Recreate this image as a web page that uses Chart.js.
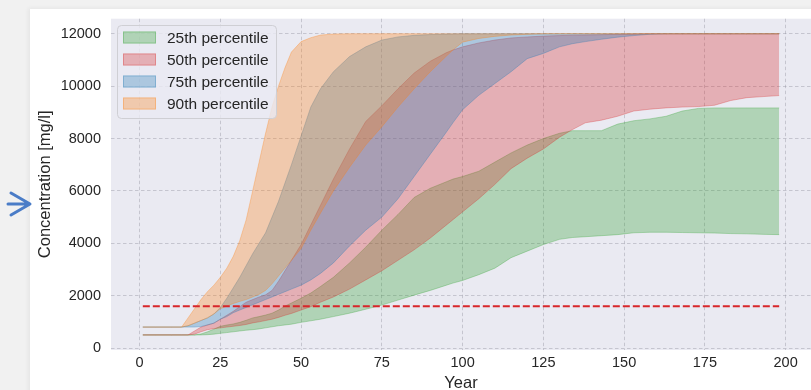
<!DOCTYPE html>
<html lang="en">
<head>
<meta charset="UTF-8">
<title>Concentration percentiles</title>
<script src="https://cdn.jsdelivr.net/npm/chart.js"></script>
<style>
  html, body { margin: 0; padding: 0; overflow: hidden; background: #f1f1f1; width: 811px; height: 390px; }
  #card { position: absolute; left: 30px; top: 9px; width: 800px; height: 400px; background: #ffffff; box-shadow: -2px -1px 4px rgba(0,0,0,0.05); }
  #arrow { position: absolute; left: 0; top: 190px; }
  #chart { position: absolute; left: 0; top: 0; }
</style>
</head>
<body>
<div id="card"></div>
<svg id="arrow" width="34" height="30">
  <path d="M8 14 H29 M11 3 L30 14 L11 25" stroke="#4a7cc7" stroke-width="3" fill="none" stroke-linecap="round" stroke-linejoin="round"/>
</svg>
<canvas id="chart" width="811" height="393"></canvas>
<script>
const years = [1, 5, 10, 13, 15, 17, 19, 21, 23, 25, 27, 29, 31, 33, 35, 37, 39, 41, 43, 45,
  47, 50, 53, 56, 60, 65, 70, 75, 80, 85, 90, 95, 97, 100, 105, 110, 115, 120, 125, 130,
  134, 138, 143, 148, 153, 158, 163, 168, 173, 178, 183, 188, 193, 198];

// lower / upper edge of every percentile band [mg/l]
const p25Low = [500, 500, 500, 500, 500, 500, 500, 510, 530, 560, 590, 620, 650, 680, 700, 730, 770, 810, 850, 880,
  910, 980, 1040, 1100, 1200, 1330, 1480, 1640, 1830, 2020, 2200, 2400, 2480, 2580, 2800, 3050, 3450, 3700, 3950, 4150,
  4220, 4250, 4290, 4330, 4400, 4420, 4420, 4410, 4400, 4390, 4370, 4360, 4340, 4330];
const p25High = [500, 500, 500, 500, 500, 500, 540, 620, 720, 830, 880, 920, 980, 1060, 1150, 1200, 1260, 1330, 1450, 1600,
  1720, 1900, 2100, 2350, 2700, 3250, 3850, 4500, 5100, 5750, 6100, 6350, 6450, 6550, 6750, 7100, 7450, 7750, 8000, 8200,
  8300, 8300, 8300, 8550, 8680, 8750, 8850, 9050, 9150, 9170, 9170, 9170, 9170, 9170];
const p50Low = [500, 500, 500, 500, 500, 530, 620, 700, 740, 770, 800, 830, 860, 900, 960, 1000, 1050, 1100, 1170, 1250,
  1320, 1450, 1580, 1750, 1950, 2250, 2600, 2950, 3350, 3750, 4200, 4700, 4900, 5200, 5700, 6250, 6850, 7250, 7600, 8050,
  8340, 8600, 8700, 8850, 9050, 9120, 9170, 9200, 9220, 9270, 9450, 9560, 9600, 9640];
const p50High = [500, 500, 500, 500, 500, 650, 800, 880, 950, 1100, 1250, 1400, 1580, 1750, 1850, 1950, 2030, 2200, 2550, 2950,
  3350, 3950, 4700, 5450, 6450, 7600, 8650, 9250, 9900, 10500, 10950, 11280, 11380, 11500, 11650, 11760, 11840, 11880, 11910, 11930,
  11945, 11955, 11965, 11980, 11990, 12000, 12000, 12000, 12000, 12000, 12000, 12000, 12000, 12000];
const p75Low = [800, 800, 800, 800, 800, 800, 820, 880, 950, 1100, 1200, 1350, 1450, 1550, 1650, 1750, 1850, 1950, 2050, 2150,
  2250, 2400, 2600, 2850, 3250, 3900, 4500, 5000, 5700, 6550, 7400, 8250, 8600, 9100, 9650, 10100, 10550, 11050, 11250, 11500,
  11620, 11700, 11790, 11870, 11930, 11980, 12000, 12000, 12000, 12000, 12000, 12000, 12000, 12000];
const p75High = [800, 800, 800, 800, 850, 950, 1050, 1150, 1300, 1550, 1900, 2300, 2700, 3150, 3600, 4000, 4400, 5000, 5600, 6300,
  7000, 8100, 9200, 9900, 10550, 11130, 11500, 11760, 11880, 11940, 11970, 11990, 11995, 12000, 12000, 12000, 12000, 12000, 12000, 12000,
  12000, 12000, 12000, 12000, 12000, 12000, 12000, 12000, 12000, 12000, 12000, 12000, 12000, 12000];
const p90Low = [800, 800, 800, 800, 850, 950, 1050, 1150, 1300, 1500, 1600, 1700, 1780, 1850, 1950, 2050, 2200, 2450, 2750, 3050,
  3350, 3800, 4500, 5150, 6000, 6900, 7750, 8450, 9200, 9900, 10550, 11150, 11380, 11680, 11820, 11900, 11950, 11980, 12000, 12000,
  12000, 12000, 12000, 12000, 12000, 12000, 12000, 12000, 12000, 12000, 12000, 12000, 12000, 12000];
const p90High = [800, 800, 800, 800, 1150, 1500, 1850, 2150, 2400, 2700, 3050, 3500, 4100, 4900, 6000, 7100, 8200, 9200, 10000, 10700,
  11300, 11700, 11850, 11950, 11990, 12000, 12000, 12000, 12000, 12000, 12000, 12000, 12000, 12000, 12000, 12000, 12000, 12000, 12000, 12000,
  12000, 12000, 12000, 12000, 12000, 12000, 12000, 12000, 12000, 12000, 12000, 12000, 12000, 12000];

const threshold = 1600;
const thresholdYears = [1, 198];

const bandLabels = ['25th percentile', '50th percentile', '75th percentile', '90th percentile'];
const bandColors = ['rgba(44,160,44,0.3)', 'rgba(214,39,40,0.3)', 'rgba(31,119,180,0.3)', 'rgba(255,127,14,0.3)'];

const xTicks = [0, 25, 50, 75, 100, 125, 150, 175, 200];
const yTicks = [0, 2000, 4000, 6000, 8000, 10000, 12000];

const fontFamily = '"Liberation Sans", Arial, sans-serif';
const textColor = '#262626';
const gridColor = 'rgba(150,150,160,0.55)';

function edge(values, color, fill) {
  return {
    data: years.map((x, i) => ({ x: x, y: values[i] })),
    borderColor: color,
    backgroundColor: color,
    borderWidth: 1,
    pointRadius: 0,
    tension: 0,
    fill: fill
  };
}

// orange first so it ends up drawn last (on top)
const datasets = [
  edge(p90Low, bandColors[3], false), edge(p90High, bandColors[3], '-1'),
  edge(p75Low, bandColors[2], false), edge(p75High, bandColors[2], '-1'),
  edge(p50Low, bandColors[1], false), edge(p50High, bandColors[1], '-1'),
  edge(p25Low, bandColors[0], false), edge(p25High, bandColors[0], '-1'),
  {
    data: thresholdYears.map(x => ({ x: x, y: threshold })),
    borderColor: '#d8262a', borderWidth: 2, borderDash: [7, 3],
    pointRadius: 0, fill: false, order: -1
  }
];

const plotBackground = {
  id: 'plotBackground',
  beforeDraw(chart) {
    const a = chart.chartArea, c = chart.ctx;
    c.save();
    c.fillStyle = '#eaeaf2';
    c.fillRect(a.left, a.top, a.right - a.left, a.bottom - a.top);
    c.restore();
  }
};

const insideLegend = {
  id: 'insideLegend',
  afterDraw(chart) {
    const c = chart.ctx;
    c.save();
    c.beginPath();
    c.roundRect(117.5, 25.5, 159, 93, 4);
    c.fillStyle = 'rgba(234,234,242,0.8)';
    c.fill();
    c.strokeStyle = '#cfcfd4';
    c.lineWidth = 1;
    c.stroke();
    c.font = '15.5px ' + fontFamily;
    c.textBaseline = 'middle';
    bandLabels.forEach((label, i) => {
      const cy = 37.5 + i * 22;
      c.fillStyle = bandColors[i];
      c.fillRect(123, cy - 6, 33, 12);
      c.strokeStyle = bandColors[i];
      c.strokeRect(123.5, cy - 5.5, 32, 11);
      c.fillStyle = textColor;
      c.fillText(label, 167, cy + 1);
    });
    c.restore();
  }
};

const ctx = document.getElementById('chart').getContext('2d');
const chart = new Chart(ctx, {
  type: 'line',
  data: { datasets: datasets },
  options: {
    responsive: false,
    animation: false,
    layout: { padding: { top: 17.3, right: 0, bottom: 0, left: 0 } },
    plugins: { legend: { display: false }, tooltip: { enabled: false } },
    scales: {
      x: {
        type: 'linear',
        min: -8.85,
        max: 207.85,
        afterBuildTicks: s => { s.ticks = xTicks.map(v => ({ value: v })); },
        afterFit: s => { s.height = 43; },
        grid: { color: gridColor, lineWidth: 0.8, drawTicks: false },
        border: { display: false, dash: [3.5, 2.5] },
        ticks: { color: textColor, font: { family: fontFamily, size: 14.5 }, padding: 4, callback: v => v },
        title: { display: true, text: 'Year', color: textColor, font: { family: fontFamily, size: 16.5 }, padding: 0 }
      },
      y: {
        type: 'linear',
        min: -75,
        max: 12575,
        afterBuildTicks: s => { s.ticks = yTicks.map(v => ({ value: v })); },
        afterFit: s => { s.width = 111; },
        grid: { color: gridColor, lineWidth: 0.8, drawTicks: false },
        border: { display: false, dash: [3.5, 2.5] },
        ticks: { color: textColor, font: { family: fontFamily, size: 14.5 }, padding: 10, callback: v => v },
        title: { display: true, text: 'Concentration [mg/l]', color: textColor, font: { family: fontFamily, size: 16.5 }, padding: { top: 35.6, bottom: 0 } }
      }
    }
  },
  plugins: [plotBackground, insideLegend]
});
</script>
</body>
</html>
